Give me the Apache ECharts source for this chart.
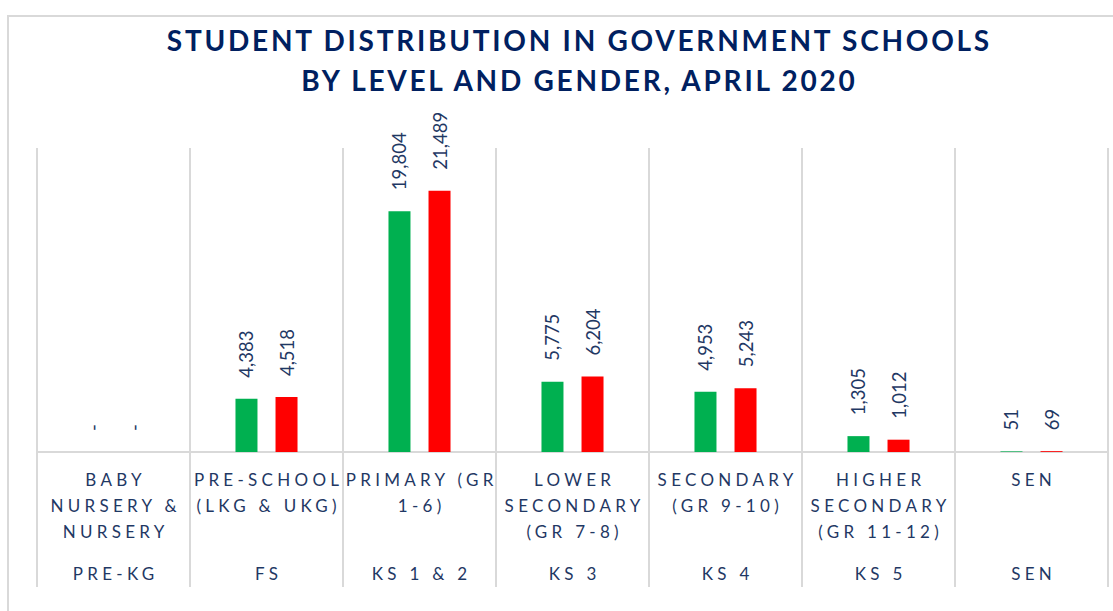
<!DOCTYPE html>
<html>
<head>
<meta charset="utf-8">
<script src="https://cdn.jsdelivr.net/npm/echarts@6/dist/echarts.min.js"></script>
<style>
  html, body { margin: 0; padding: 0; background: #ffffff; }
  #chart { width: 1113px; height: 611px; }
</style>
</head>
<body>
<div id="chart"></div>
<script>
// ---- data ----
const titleLines = ['STUDENT DISTRIBUTION IN GOVERNMENT SCHOOLS', 'BY LEVEL AND GENDER, APRIL 2020'];
const categories = [
  'BABY\nNURSERY &\nNURSERY',
  'PRE-SCHOOL\n(LKG & UKG)',
  'PRIMARY (GR\n1-6)',
  'LOWER\nSECONDARY\n(GR 7-8)',
  'SECONDARY\n(GR 9-10)',
  'HIGHER\nSECONDARY\n(GR 11-12)',
  'SEN'
];
const keyStages = ['PRE-KG', 'FS', 'KS 1 & 2', 'KS 3', 'KS 4', 'KS 5', 'SEN'];
const maleValues = [0, 4383, 19804, 5775, 4953, 1305, 51];
const femaleValues = [0, 4518, 21489, 6204, 5243, 1012, 69];

// ---- styles ----
const gridColor = '#d9d9d9';
const labelColor = '#1F3864';
const titleColor = '#002060';

const chart = echarts.init(document.getElementById('chart'), null, { renderer: 'svg' });

const valueLabel = {
  show: true,
  position: 'top',
  distance: 21,
  rotate: 90,
  align: 'left',
  verticalAlign: 'middle',
  fontFamily: 'Lato',
  fontSize: 18.5,
  color: labelColor,
  formatter: p => p.value === 0 ? '-' : p.value.toLocaleString('en-US')
};

chart.setOption({
  animation: false,
  backgroundColor: '#ffffff',
  title: {
    text: titleLines.join('\n'),
    left: 578,
    top: 20,
    padding: 0,
    textAlign: 'center',
    textStyle: {
      fontFamily: 'Lato',
      fontWeight: 'bold',
      fontSize: 28,
      lineHeight: 40,
      color: titleColor
    }
  },
  graphic: [{
    type: 'rect',
    shape: { x: 8, y: 16, width: 1200, height: 700 },
    style: { fill: 'none', stroke: gridColor, lineWidth: 2 },
    silent: true,
    z: -1
  }],
  grid: { left: 37, right: 5, top: 148, bottom: 159, containLabel: false },
  xAxis: [{
    type: 'category',
    data: categories,
    position: 'bottom',
    axisLine: { show: true, lineStyle: { color: gridColor, width: 2 } },
    axisTick: { show: true, interval: 0, length: 135, lineStyle: { color: gridColor, width: 2 } },
    splitLine: { show: true, interval: 0, lineStyle: { color: gridColor, width: 2 } },
    axisLabel: {
      interval: 0,
      margin: 14,
      fontFamily: 'Lato',
      fontSize: 17,
      lineHeight: 26,
      color: labelColor
    }
  }, {
    type: 'category',
    data: keyStages,
    position: 'bottom',
    offset: 0,
    axisLine: { show: false },
    axisTick: { show: false },
    splitLine: { show: false },
    axisLabel: {
      interval: 0,
      margin: 108,
      fontFamily: 'Lato',
      fontSize: 17,
      lineHeight: 26,
      color: labelColor
    }
  }],
  yAxis: {
    type: 'value',
    min: 0,
    max: 25000,
    show: false,
    splitLine: { show: false }
  },
  series: [{
    name: 'Male',
    type: 'bar',
    xAxisIndex: 0,
    data: maleValues,
    barWidth: 22,
    barGap: '82%',
    itemStyle: { color: '#00B050' },
    label: valueLabel
  }, {
    name: 'Female',
    type: 'bar',
    xAxisIndex: 0,
    data: femaleValues,
    barWidth: 22,
    barGap: '82%',
    itemStyle: { color: '#FF0000' },
    label: valueLabel
  }]
});

// letter spacing for title and category texts (SVG renderer)
const spacing = {};
titleLines.forEach(t => { spacing[t] = 2.75; });
categories.forEach(c => c.split('\n').forEach(l => { spacing[l] = 4.3; }));
keyStages.forEach(k => { spacing[k] = 4.3; });

function applySpacing() {
  document.querySelectorAll('#chart text').forEach(t => {
    const s = spacing[t.textContent];
    if (s != null) {
      t.setAttribute('letter-spacing', s);
      t.setAttribute('dx', s / 2);
    }
  });
}
chart.on('finished', applySpacing);
setTimeout(applySpacing, 50);
setTimeout(applySpacing, 300);
</script>
</body>
</html>
